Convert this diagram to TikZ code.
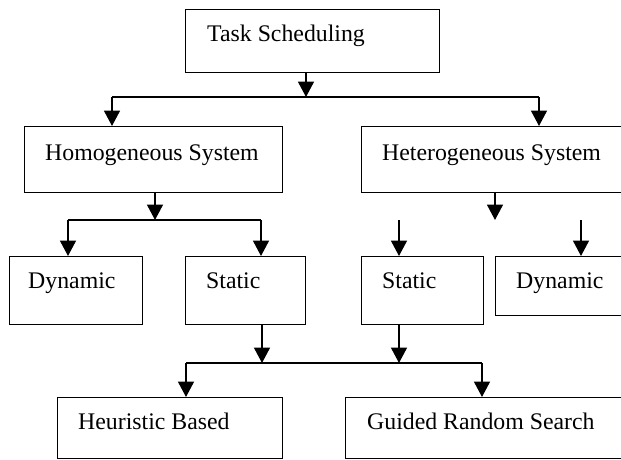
\documentclass[tikz,border=0pt]{standalone}
\usepackage{fontspec}
\setmainfont{Liberation Serif}
\usetikzlibrary{arrows.meta}
\begin{document}
\begin{tikzpicture}[x=1pt,y=-1pt,
  box/.style={draw,line width=1.3pt,inner sep=0pt},
  txt/.style={anchor=base west,inner sep=0pt,font=\fontsize{23.8}{28}\selectfont},
  arr/.style={line width=1.8pt,-{Triangle[length=15.5pt,width=16pt]}},
  ln/.style={line width=1.8pt}]
\useasboundingbox (0,0) rectangle (621,460);
\begin{scope}
\clip (0,0) rectangle (621,460);
% boxes
\node[box,anchor=north west,minimum width=254pt,minimum height=63pt] (task) at (185,9) {};
\node[box,anchor=north west,minimum width=258pt,minimum height=66pt] (homo) at (24,126) {};
\node[box,anchor=north west,minimum width=270pt,minimum height=66pt] (hetero) at (361,126) {};
\node[box,anchor=north west,minimum width=133pt,minimum height=68pt] (dynl) at (9,256) {};
\node[box,anchor=north west,minimum width=120pt,minimum height=68pt] (statl) at (185,256) {};
\node[box,anchor=north west,minimum width=122pt,minimum height=68pt] (statr) at (361,256) {};
\node[box,anchor=north west,minimum width=136pt,minimum height=59pt] (dynr) at (495,256) {};
\node[box,anchor=north west,minimum width=225pt,minimum height=61pt] (heur) at (57,397) {};
\node[box,anchor=north west,minimum width=286pt,minimum height=61pt] (guided) at (345,397) {};
% texts
\node[txt] (ttask) at (207,42) {Task Scheduling};
\node[txt] (thomo) at (45,160) {Homogeneous System};
\node[txt] (thetero) at (382,160) {Heterogeneous System};
\node[txt] (tdynl) at (28,288) {Dynamic};
\node[txt] (tstatl) at (206,288) {Static};
\node[txt] (tstatr) at (382,288) {Static};
\node[txt] (tdynr) at (516,288) {Dynamic};
\node[txt] (theur) at (78,429) {Heuristic Based};
\node[txt] (tguided) at (367,429) {Guided Random Search};
\end{scope}
% junction coordinates
\coordinate (j1) at (306,97);
\coordinate (j1l) at (112,97);
\coordinate (j1r) at (539,97);
\coordinate (j2) at (155,220);
\coordinate (j2l) at (68,220);
\coordinate (j2r) at (261,220);
\coordinate (j3) at (495,220);
\coordinate (s3a) at (399,220);
\coordinate (s3b) at (581,220);
\coordinate (j4a) at (262,363);
\coordinate (j4b) at (399,363);
\coordinate (j4l) at (186,363);
\coordinate (j4r) at (482,363);
% connectors
\draw[arr] (task.south -| j1) -- (j1);
\draw[ln] (j1l) -- (j1r);
\draw[arr] (j1l) -- (homo.north -| j1l);
\draw[arr] (j1r) -- (hetero.north -| j1r);
\draw[arr] (homo.south -| j2) -- (j2);
\draw[ln] (j2l) -- (j2r);
\draw[arr] (j2l) -- (dynl.north -| j2l);
\draw[arr] (j2r) -- (statl.north -| j2r);
\draw[arr] (hetero.south -| j3) -- (j3);
\draw[arr] (s3a) -- (statr.north -| s3a);
\draw[arr] (s3b) -- (dynr.north -| s3b);
\draw[arr] (statl.south -| j4a) -- (j4a);
\draw[arr] (statr.south -| j4b) -- (j4b);
\draw[ln] (j4l) -- (j4r);
\draw[arr] (j4l) -- (heur.north -| j4l);
\draw[arr] (j4r) -- (guided.north -| j4r);
\end{tikzpicture}
\end{document}
